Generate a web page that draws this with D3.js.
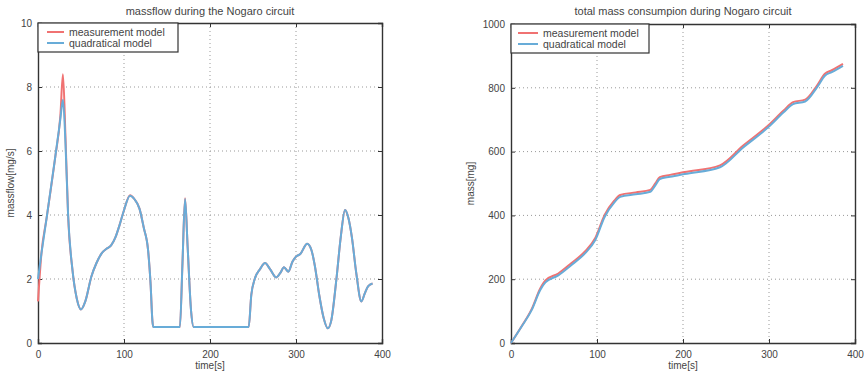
<!DOCTYPE html>
<html>
<head>
<meta charset="utf-8">
<script src="https://cdn.jsdelivr.net/npm/d3@7"></script>
<style>
body { margin: 0; background: #fff; }
svg text { font-family: "Liberation Sans", Arial, sans-serif; fill: #444; }
</style>
</head>
<body>
<svg class="view" width="864" height="378"></svg>
<script>
// massflow during the Nogaro circuit [t (s), mg/s]
var flowTime = [0, 4, 10, 20, 26, 29, 32, 35, 40, 45, 50, 55, 62, 68, 74, 80, 85, 90, 95, 100, 107, 112, 118, 123, 128, 131, 133, 134,
    165, 168, 171, 174, 178, 181, 245, 248, 252, 258, 264, 270, 277, 282, 286, 291, 296, 300, 305, 313, 318, 322, 327, 332, 337,
    341, 347, 352, 357, 361, 365, 370, 376, 380, 384, 389];
var flowQuad = [2.0, 2.8, 3.9, 5.8, 7.0, 7.6, 6.2, 4.0, 2.3, 1.4, 1.05, 1.3, 2.07, 2.5, 2.8, 2.95, 3.05, 3.3, 3.7, 4.15, 4.6, 4.5, 4.2, 3.6, 2.9, 1.8, 0.7, 0.5,
    0.5, 2.5, 4.5, 3.0, 1.0, 0.5, 0.5, 1.5, 2.0, 2.3, 2.5, 2.3, 2.05, 2.2, 2.37, 2.23, 2.55, 2.7, 2.78, 3.1, 2.9, 2.4, 1.5, 0.8, 0.46,
    0.7, 2.0, 3.3, 4.16, 3.9, 3.3, 2.2, 1.3, 1.55, 1.78, 1.86];
var flowMeas = [1.3, 2.8, 3.9, 5.8, 7.1, 8.4, 6.4, 4.0, 2.3, 1.4, 1.05, 1.3, 2.07, 2.5, 2.8, 2.95, 3.05, 3.3, 3.7, 4.15, 4.62, 4.5, 4.2, 3.6, 2.9, 1.8, 0.7, 0.5,
    0.5, 2.5, 4.52, 3.0, 1.0, 0.5, 0.5, 1.5, 2.0, 2.3, 2.5, 2.3, 2.05, 2.2, 2.37, 2.23, 2.55, 2.7, 2.78, 3.1, 2.9, 2.4, 1.5, 0.8, 0.46,
    0.7, 2.0, 3.3, 4.16, 3.9, 3.3, 2.2, 1.3, 1.55, 1.78, 1.86];

// total mass consumption [t (s), mg]
var massTime = [0, 12, 24, 34, 40, 55, 70, 86, 98, 109, 120, 127, 145, 162, 168, 173, 185, 202, 243, 270, 299, 317, 328, 342, 356, 365, 373, 386];
var massQuad = [0, 50, 103, 166, 190, 212, 244, 281, 323, 396, 440, 458, 466, 474, 495, 514, 521, 530, 551, 613, 676, 723, 749, 757, 802, 838, 849, 869];
var massMeas = [0, 51, 106, 171, 196, 218, 250, 287, 329, 402, 446, 464, 472, 480, 501, 520, 527, 536, 557, 619, 682, 729, 755, 763, 808, 844, 855, 875];

var xTicks = [0, 100, 200, 300, 400];
var flowTicks = [0, 2, 4, 6, 8, 10];
var massTicks = [0, 200, 400, 600, 800, 1000];
var seriesNames = ['measurement model', 'quadratical model'];
var seriesColors = ['#f07272', '#68acd8'];

var svg = d3.select('.view');

function panel(opt) {
    var x = d3.scaleLinear().domain([0, 400]).range([opt.left, opt.right]);
    var y = d3.scaleLinear().domain(opt.yDomain).range([opt.bottom, opt.top]);
    var g = svg.append('g');

    // dotted grid
    g.selectAll('line.gx').data(xTicks.slice(1, -1)).enter().append('line')
        .attr('x1', function (d) { return x(d); }).attr('x2', function (d) { return x(d); })
        .attr('y1', opt.top).attr('y2', opt.bottom)
        .attr('stroke', '#999').attr('stroke-width', 1).attr('stroke-dasharray', '1,3');
    g.selectAll('line.gy').data(opt.yTicks.slice(1, -1)).enter().append('line')
        .attr('y1', function (d) { return y(d); }).attr('y2', function (d) { return y(d); })
        .attr('x1', opt.left).attr('x2', opt.right)
        .attr('stroke', '#999').attr('stroke-width', 1).attr('stroke-dasharray', '1,3');

    // axes, ticks inside, on all four sides
    g.append('g').attr('transform', 'translate(0,' + opt.bottom + ')')
        .call(d3.axisBottom(x).tickValues(xTicks).tickSize(-4).tickPadding(8).tickFormat(d3.format('d')));
    g.append('g').attr('transform', 'translate(0,' + opt.top + ')')
        .call(d3.axisTop(x).tickValues(xTicks).tickSize(-4).tickFormat(''));
    g.append('g').attr('transform', 'translate(' + opt.left + ',0)')
        .call(d3.axisLeft(y).tickValues(opt.yTicks).tickSize(-4).tickPadding(6).tickFormat(d3.format('d')));
    g.append('g').attr('transform', 'translate(' + opt.right + ',0)')
        .call(d3.axisRight(y).tickValues(opt.yTicks).tickSize(-4).tickFormat(''));
    g.selectAll('.domain').attr('stroke', '#333').attr('stroke-width', 1.4);
    g.selectAll('.tick line').attr('stroke', '#333');
    g.selectAll('.tick text').attr('font-size', 10).attr('fill', '#444')
        .attr('font-family', '"Liberation Sans", Arial, sans-serif');

    // curves
    var line = d3.line()
        .x(function (d) { return x(d[0]); })
        .y(function (d) { return y(d[1]); })
        .curve(d3.curveMonotoneX);
    opt.series.forEach(function (s, i) {
        var pts = opt.time.map(function (t, j) { return [t, s[j]]; });
        g.append('path').datum(pts)
            .attr('d', line)
            .attr('fill', 'none')
            .attr('stroke', seriesColors[i])
            .attr('stroke-width', 2);
    });

    // title and labels
    g.append('text').attr('x', (opt.left + opt.right) / 2).attr('y', 15)
        .attr('text-anchor', 'middle').attr('font-size', 11).text(opt.title);
    g.append('text').attr('x', (opt.left + opt.right) / 2).attr('y', 369)
        .attr('text-anchor', 'middle').attr('font-size', 10).text('time[s]');
    g.append('text')
        .attr('transform', 'translate(' + opt.ylabX + ',' + (opt.top + opt.bottom) / 2 + ') rotate(-90)')
        .attr('text-anchor', 'middle').attr('font-size', 10).text(opt.ylabel);

    // legend
    var lg = g.append('g').attr('transform', 'translate(' + opt.left + ',' + opt.top + ')');
    lg.append('rect').attr('width', opt.legW).attr('height', 29)
        .attr('fill', '#fff').attr('stroke', '#333').attr('stroke-width', 1.2);
    seriesNames.forEach(function (n, i) {
        var yy = 9 + i * 11;
        lg.append('line').attr('x1', opt.legL[0]).attr('x2', opt.legL[1])
            .attr('y1', yy).attr('y2', yy)
            .attr('stroke', seriesColors[i]).attr('stroke-width', 2);
        lg.append('text').attr('x', opt.legL[1] + 5).attr('y', yy + 3.5)
            .attr('font-size', 10.5).text(n);
    });
}

panel({
    left: 38, right: 382, top: 23, bottom: 343,
    yDomain: [0, 10], yTicks: flowTicks,
    time: flowTime, series: [flowMeas, flowQuad],
    title: 'massflow during the Nogaro circuit',
    ylabel: 'massflow[mg/s]', ylabX: 14,
    legW: 140, legL: [9, 26]
});

panel({
    left: 511, right: 855, top: 24, bottom: 343,
    yDomain: [0, 1000], yTicks: massTicks,
    time: massTime, series: [massMeas, massQuad],
    title: 'total mass consumpion during Nogaro circuit',
    ylabel: 'mass[mg]', ylabX: 474,
    legW: 138, legL: [7, 27]
});
</script>
</body>
</html>
